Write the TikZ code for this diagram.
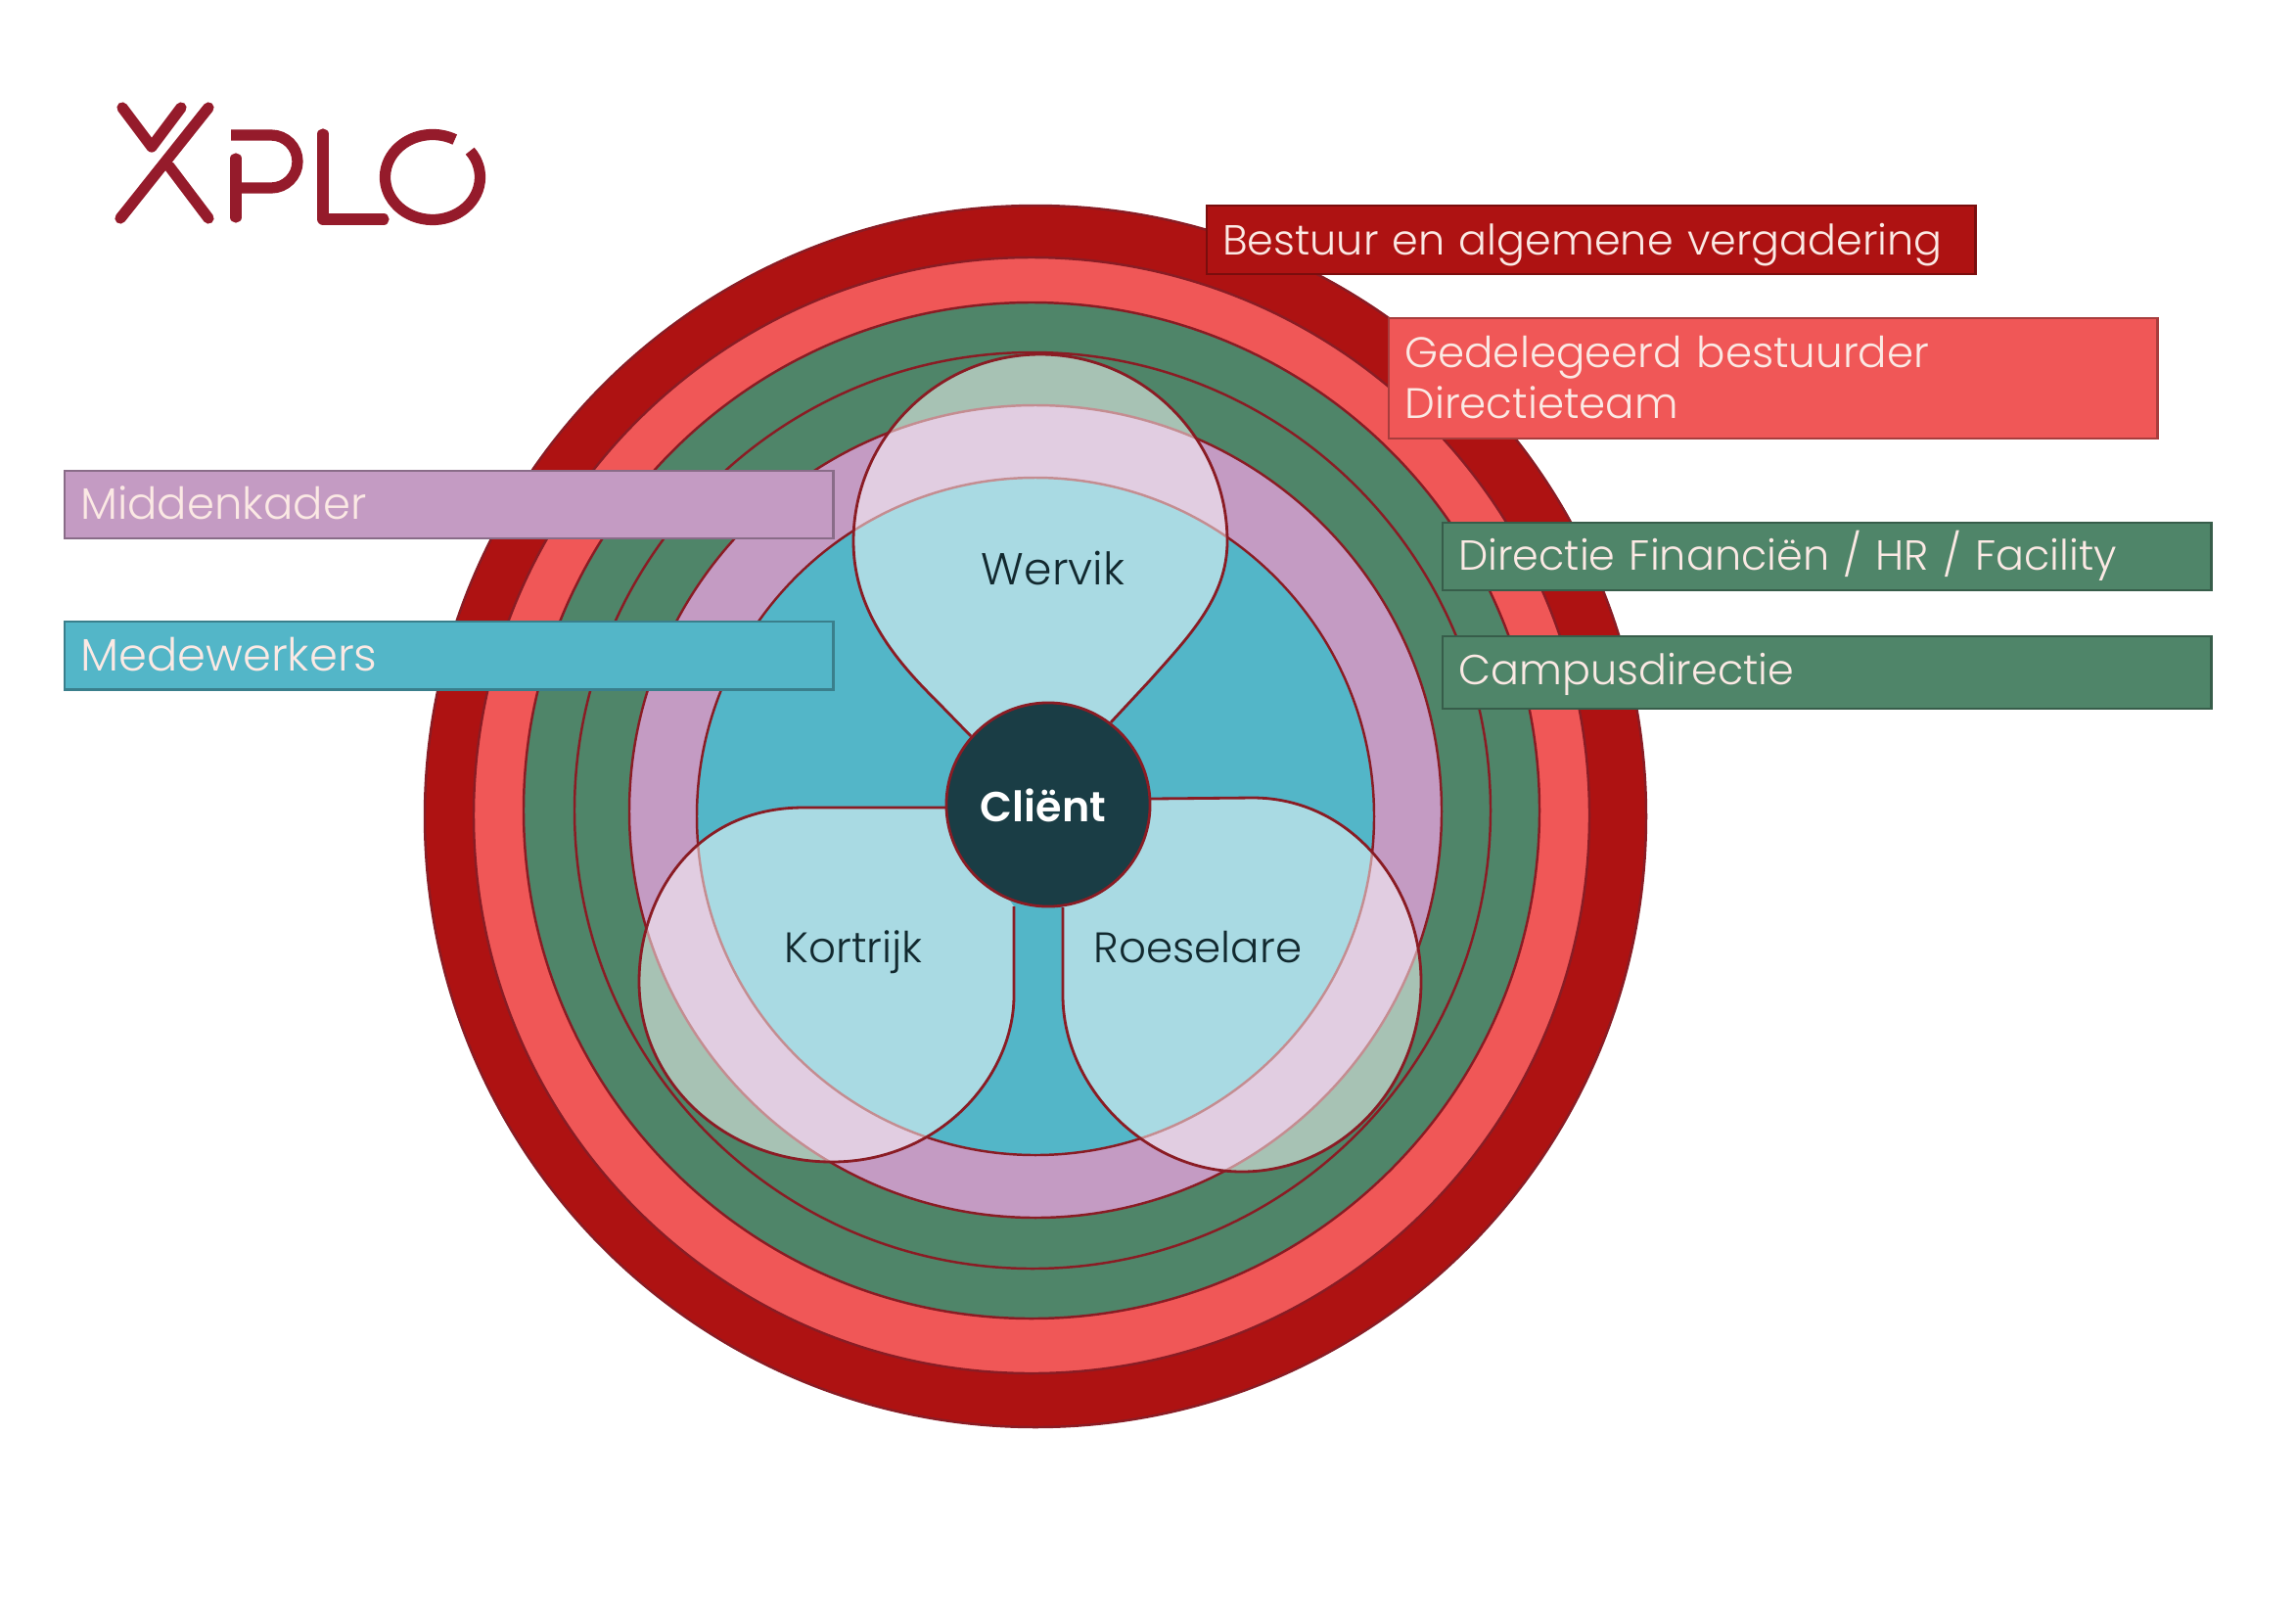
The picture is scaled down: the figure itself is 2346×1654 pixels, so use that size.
\documentclass[tikz,border=0pt]{standalone}
\usepackage{fontspec}
\setmainfont{Poppins}[UprightFont=* Light,BoldFont=* SemiBold]
\usetikzlibrary{positioning}

\definecolor{bestuurred}{HTML}{AE1212}
\definecolor{delegred}{HTML}{F05757}
\definecolor{direcgreen}{HTML}{4F8569}
\definecolor{kaderpurple}{HTML}{C49BC3}
\definecolor{werkerteal}{HTML}{53B6C8}
\definecolor{clientdark}{HTML}{1A3D45}
\definecolor{sitetext}{HTML}{12292F}
\definecolor{ringline}{HTML}{8A1C24}
\definecolor{logored}{HTML}{951B2B}
\definecolor{boxtext}{HTML}{FBE9E4}

\tikzset{
  ring/.style={draw=ringline, line width=0.7pt},
  petal/.style={draw=ringline, line width=0.8pt, fill=white, fill opacity=0.5},
  tagbox/.style={draw=#1!70!black, fill=#1, line width=0.7pt, minimum width=7.85cm, anchor=north west,
    text=boxtext, align=left, text width=7.53cm, inner xsep=0.16cm, inner ysep=0pt,
    text height=11.4pt, text depth=2.6pt, font=\fontsize{12.2pt}{14.8pt}\selectfont},
  sitelabel/.style={text=sitetext, anchor=base, font=\fontsize{12.4pt}{14pt}\selectfont},
  logoline/.style={draw=logored, line width=3.2pt, line cap=round, line join=round},
}

\begin{document}
\begin{tikzpicture}[x=0.01cm, y=0.01cm]
\useasboundingbox (0,0) rectangle (2346,-1654);
% Rings
\draw[ring, fill=bestuurred] (1058,-834) circle[radius=624];
\draw[ring, fill=delegred] (1054,-833) circle[radius=570];
\draw[ring, fill=direcgreen] (1054,-828) circle[radius=519];
\draw[ring, fill=direcgreen] (1055,-828) circle[radius=468];
\draw[ring, fill=kaderpurple] (1058,-829) circle[radius=415];
\draw[ring, fill=werkerteal] (1058,-834) circle[radius=346];
% Petals
\draw[petal] (992,-752) -- (955,-714) .. controls (905,-665) and (872,-615) .. (872,-553)
  .. controls (872,-448) and (958,-362) .. (1063,-362) .. controls (1168,-362) and (1254,-448) .. (1254,-553)
  .. controls (1254,-610) and (1215,-650) .. (1175,-695) -- (1135,-738);
\draw[petal] (966,-825) -- (821,-825) .. controls (710,-825) and (653,-915) .. (653,-1003)
  .. controls (653,-1105) and (740,-1187) .. (850,-1187) .. controls (960,-1187) and (1036,-1100) .. (1036,-1017) -- (1036,-926);
\draw[petal] (1176,-816) -- (1280,-815) .. controls (1380,-815) and (1452,-905) .. (1452,-1003)
  .. controls (1452,-1110) and (1370,-1197) .. (1269,-1197) .. controls (1170,-1197) and (1086,-1110) .. (1086,-1017) -- (1086,-927);
% Center
\node[circle, draw=ringline, fill=clientdark, line width=0.8pt, minimum size=2.08cm, inner sep=0pt] (client) at (1071,-822) {};
\node[text=white, font=\bfseries\fontsize{12.2pt}{14pt}\selectfont] (clientlabel) at (1066,-823) {Cliënt};
% Sites
\node[sitelabel, font=\fontsize{13pt}{14pt}\selectfont] (wervik) at (1076,-597) {Wervik};
\node[sitelabel] (kortrijk) at (872,-983) {Kortrijk};
\node[sitelabel] (roeselare) at (1224,-983) {Roeselare};
% Boxes
\node[tagbox=bestuurred, minimum height=0.70cm] (bestuur) at (1232,-208.5) {Bestuur en algemene vergadering};
\node[tagbox=delegred, minimum height=1.23cm, text depth=17.4pt, font=\fontsize{12.4pt}{14.8pt}\selectfont] (delegated) at (1418,-323.5) {Gedelegeerd bestuurder\\Directieteam};
\node[tagbox=direcgreen, minimum height=0.69cm, text height=10.5pt] (directie) at (1473,-532.5) {Directie Financiën / HR / Facility};
\node[tagbox=direcgreen, minimum height=0.74cm, text height=9.6pt] (campus) at (1473,-648.5) {Campusdirectie};
\node[tagbox=kaderpurple, minimum height=0.69cm, font=\fontsize{12.8pt}{14.8pt}\selectfont] (kader) at (65,-479.5) {Middenkader};
\node[tagbox=werkerteal, minimum height=0.69cm, font=\fontsize{13.2pt}{14.8pt}\selectfont] (werkers) at (65,-634) {Medewerkers};
% Logo
\draw[logoline] (125,-110) -- (155,-150) -- (185,-110);
\draw[logoline] (213,-110) -- (123,-223);
\draw[logoline] (173,-170) -- (213,-223);
\draw[logoline, line cap=butt] (236,-138) -- (277,-138) arc[start angle=90, end angle=-90, radius=27] -- (241,-192);
\draw[logoline] (241,-162) -- (241,-222);
\draw[logoline] (330,-137) -- (330,-224) -- (392,-224);
\draw[logoline, line cap=butt] (480.2,-154.2) arc[start angle=38, end angle=-298, x radius=48.5, y radius=43.5];
\end{tikzpicture}
\end{document}
